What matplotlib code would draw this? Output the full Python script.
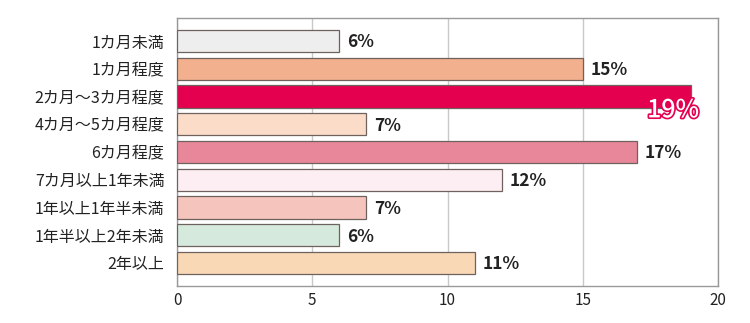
import matplotlib.pyplot as plt
import matplotlib.patheffects as pe

plt.rcParams['font.family'] = ['Noto Sans CJK JP', 'DejaVu Sans']

categories = ["1カ月未満", "1カ月程度", "2カ月～3カ月程度", "4カ月～5カ月程度", "6カ月程度",
              "7カ月以上1年未満", "1年以上1年半未満", "1年半以上2年未満", "2年以上"]
values = [6, 15, 19, 7, 17, 12, 7, 6, 11]
colors = ["#eeeeee", "#f3b08e", "#e4004f", "#fbdcc8", "#e8879a",
          "#fdeef3", "#f5c4bd", "#d5eadc", "#f9d8b5"]
highlight = 2

fig = plt.figure(figsize=(7.5, 3.23), dpi=100)
ax = fig.add_axes([177/750, 1 - 286/323, (718 - 177)/750, (286 - 18)/323])

y = list(range(len(categories)))
ax.barh(y, values, height=0.8, color=colors, edgecolor="#6e625e", linewidth=0.9, zorder=3)

for i, v in enumerate(values):
    if i == highlight:
        t = ax.text(v + 0.3, i + 0.5, f"{v}%", ha="right", va="center",
                    fontsize=18, color="white", fontweight="medium", zorder=5)
        t.set_path_effects([pe.Stroke(linewidth=2.4, foreground="#e4004f"), pe.Normal()])
    else:
        ax.text(v + 0.3, i + 0.05, f"{v}%", ha="left", va="center",
                fontsize=12.5, color="#222222", fontweight="bold", zorder=4)

ax.set_yticks(y)
ax.set_yticklabels(categories, fontsize=11.5, color="#222222")
ax.set_ylim(8.83, -0.83)
ax.set_xlim(0, 20)
ax.set_xticks([0, 5, 10, 15, 20])
ax.tick_params(axis="x", labelsize=11, colors="#222222", length=0, pad=4)
ax.tick_params(axis="y", length=0, pad=9)
ax.grid(axis="x", color="#c8c8c8", linewidth=1, zorder=0)
for s in ax.spines.values():
    s.set_color("#999999")
    s.set_linewidth(1)

fig.savefig("out.png", dpi=100)
